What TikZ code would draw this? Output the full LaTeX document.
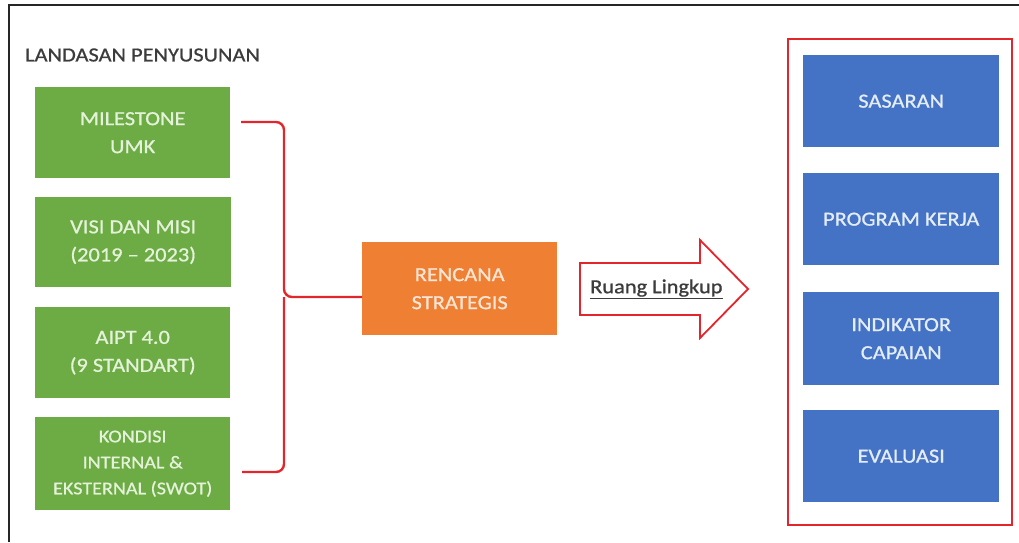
\documentclass[tikz,border=0pt]{standalone}
\usepackage{fontspec}
\setmainfont{Carlito}[FakeStretch=1.12, FakeBold=0.8]
\definecolor{gbox}{HTML}{6DAB45}
\definecolor{gtext}{HTML}{E4F2DA}
\definecolor{obox}{HTML}{EE7F33}
\definecolor{otext}{HTML}{FCE6D6}
\definecolor{bbox}{HTML}{4472C4}
\definecolor{btext}{HTML}{E4EDFA}
\definecolor{rline}{HTML}{E3262C}
\definecolor{dgray}{HTML}{3C3C3C}
\tikzset{
  x=1pt, y=-1pt,
  base/.style={inner sep=0pt, align=center, anchor=north west},
  greenbox/.style={base, fill=gbox, text=gtext, font=\fontsize{20}{28}\selectfont},
  orangebox/.style={base, fill=obox, text=otext, font=\fontsize{20}{28}\selectfont},
  bluebox/.style={base, fill=bbox, text=btext, font=\fontsize{20}{28}\selectfont},
  bracket/.style={draw=rline, line width=2.4pt, rounded corners=8pt},
}
\begin{document}
\begin{tikzpicture}
\useasboundingbox (0,0) rectangle (1019,542);
% outer frame (top and left edges visible)
\draw[line width=1.5pt, black!85] (9,542) -- (9,5) -- (1019,5);
% title
\node[anchor=west, inner sep=0pt, text=dgray, font=\fontsize{20}{24}\selectfont] (title) at (25,55) {LANDASAN PENYUSUNAN};
% green boxes
\node[greenbox, minimum width=195pt, minimum height=91pt] (m1) at (35,87) {MILESTONE\\UMK};
\node[greenbox, minimum width=196pt, minimum height=90pt] (m2) at (35,197) {VISI DAN MISI\\(2019 -- 2023)};
\node[greenbox, minimum width=195pt, minimum height=91pt] (m3) at (35,307) {AIPT 4.0\\(9 STANDART)};
\node[greenbox, minimum width=195pt, minimum height=93pt, font=\fontsize{18}{26}\selectfont] (m4) at (35,417) {KONDISI\\INTERNAL \&\\EKSTERNAL (SWOT)};
% orange box
\node[orangebox, minimum width=195pt, minimum height=93pt] (rs) at (362,242) {RENCANA\\STRATEGIS};
% bracket
\coordinate (bt) at (241,122);
\coordinate (bb) at (242,472);
\coordinate (bm) at (284,297);
\draw[bracket] (bt) -- (284,122) -- (bm) -- (rs.west |- bm);
\draw[bracket] (bb) -- (284,472) -- (bm);
% block arrow
\draw[draw=rline, line width=1.8pt, fill=white, line join=miter]
  (580,263) -- (700,263) -- (700,240) -- (748,289) -- (700,338) -- (700,315) -- (580,315) -- cycle;
\node[anchor=west, inner sep=0pt, text=dgray, font=\fontsize{20}{24}\selectfont] (rl) at (590,289) {\underline{Ruang Lingkup}};
% right red frame
\draw[draw=rline, line width=2.2pt] (788,39) rectangle (1012,525);
% blue boxes
\node[bluebox, minimum width=196pt, minimum height=92pt] (s1) at (803,55) {SASARAN};
\node[bluebox, minimum width=196pt, minimum height=92pt] (s2) at (803,173) {PROGRAM KERJA};
\node[bluebox, minimum width=196pt, minimum height=93pt] (s3) at (803,292) {INDIKATOR\\CAPAIAN};
\node[bluebox, minimum width=196pt, minimum height=92pt] (s4) at (803,410) {EVALUASI};
\end{tikzpicture}
\end{document}
